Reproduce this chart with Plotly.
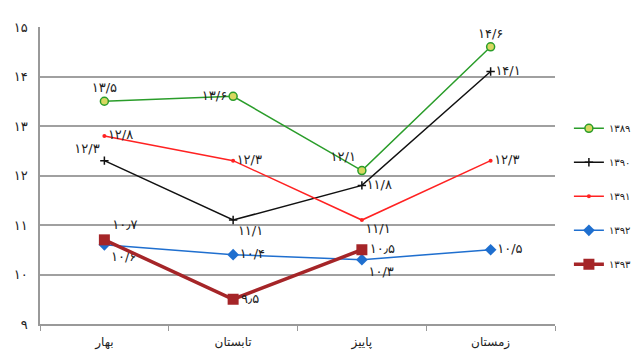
import plotly.graph_objects as go

categories = ["بهار", "تابستان", "پاییز", "زمستان"]
series_names = ["۱۳۸۹", "۱۳۹۰", "۱۳۹۱", "۱۳۹۲", "۱۳۹۳"]
v1389 = [13.5, 13.6, 12.1, 14.6]
v1390 = [12.3, 11.1, 11.8, 14.1]
v1391 = [12.8, 12.3, 11.1, 12.3]
v1392 = [10.6, 10.4, 10.3, 10.5]
v1393 = [10.7, 9.5, 10.5, None]
t1389 = ["۱۳/۵", "۱۳/۶", "۱۲/۱", "۱۴/۶"]
t1390 = ["۱۲/۳", "۱۱/۱", "۱۱/۸", "۱۴/۱"]
t1391 = ["۱۲/۸", "۱۲/۳", "۱۱/۱", "۱۲/۳"]
t1392 = ["۱۰/۶", "۱۰/۴", "۱۰/۳", "۱۰/۵"]
t1393 = ["۱۰٫۷", "۹٫۵", "۱۰٫۵", ""]
ytick_vals = [9, 10, 11, 12, 13, 14, 15]
ytick_text = ["۹", "۱۰", "۱۱", "۱۲", "۱۳", "۱۴", "۱۵"]

font = "DejaVu Sans"
fig = go.Figure()

def add(name, vals, texts, color, width, marker, tpos):
    fig.add_trace(go.Scatter(
        x=categories, y=vals, name=name, mode="lines+markers+text",
        text=texts, textposition=tpos,
        textfont=dict(family=font, size=13, color="#222"),
        line=dict(color=color, width=width), marker=marker,
        legendgroup=name, cliponaxis=False))

add(series_names[0], v1389, t1389, "#2a9d2a", 1.5,
    dict(symbol="circle", size=8, color="#d8d860", line=dict(color="#2a9d2a", width=1.5)),
    ["top center", "middle left", "top left", "top center"])
add(series_names[1], v1390, t1390, "#111111", 1.5,
    dict(symbol="cross-thin", size=6, line=dict(color="#111111", width=1.5)),
    ["top left", "bottom right", "middle right", "middle right"])
add(series_names[2], v1391, t1391, "#ff2222", 1.5,
    dict(symbol="circle", size=4, color="#ff2222"),
    ["middle right", "middle right", "bottom right", "middle right"])
add(series_names[3], v1392, t1392, "#1f6fcf", 1.5,
    dict(symbol="diamond", size=9, color="#1f6fcf"),
    ["bottom right", "middle right", "bottom right", "middle right"])
add(series_names[4], v1393, t1393, "#a52528", 3.5,
    dict(symbol="square", size=11, color="#a52528"),
    ["top right", "middle right", "middle right", "middle right"])

fig.update_layout(
    width=624, height=344,
    margin=dict(l=32, r=77, t=19, b=28, autoexpand=False),
    paper_bgcolor="white", plot_bgcolor="white",
    font=dict(family=font, size=11, color="#222"),
    showlegend=True,
    legend=dict(x=1.027, xanchor="left", y=0.43, yanchor="middle",
                tracegroupgap=15, font=dict(size=10), itemwidth=30),
    xaxis=dict(type="category", range=[-0.5, 3.5], showgrid=False,
               showline=True, linecolor="#999", linewidth=1.5,
               ticks="outside", tickson="boundaries", ticklen=5, tickcolor="#999",
               tickfont=dict(size=12), ticklabelstandoff=6, automargin=False),
    yaxis=dict(range=[9, 15], tickvals=ytick_vals, ticktext=ytick_text,
               showgrid=True, gridcolor="#a0a0a0", gridwidth=1.5,
               showline=True, linecolor="#999", linewidth=1.5,
               zeroline=False, ticks="", tickfont=dict(size=13),
               ticklabelstandoff=8, automargin=False),
)

fig.write_html("out.html")
